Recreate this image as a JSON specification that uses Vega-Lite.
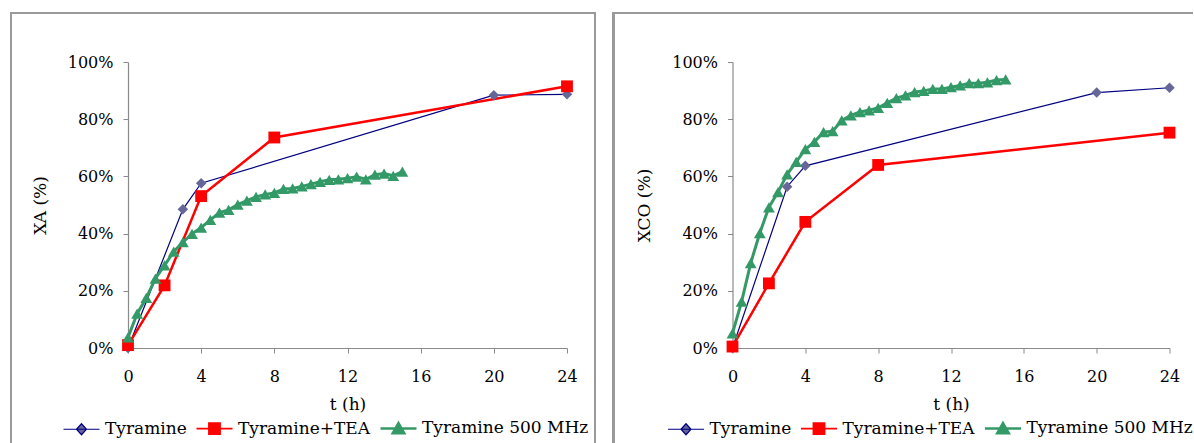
{
  "$schema": "https://vega.github.io/schema/vega-lite/v6.json",
  "padding": {"left": 9, "top": 11, "right": 0, "bottom": 0},
  "spacing": 14.5,
  "config": {
    "view": {"stroke": null},
    "font": "DejaVu Serif",
    "axis": {
      "grid": false,
      "domainColor": "#8a8a8a",
      "domainWidth": 1.2,
      "tickColor": "#8a8a8a",
      "tickSize": 5,
      "labelFont": "DejaVu Serif",
      "labelFontSize": 16,
      "labelColor": "#000000",
      "titleFont": "DejaVu Serif",
      "titleFontSize": 17,
      "titleFontWeight": "normal",
      "titleColor": "#000000",
      "labelFlush": false,
      "labelOverlap": false
    },
    "axisX": {"labelPadding": 15, "titlePadding": 12},
    "axisY": {"labelPadding": 10, "titlePadding": 18},
    "legend": {
      "orient": "none",
      "legendX": -64.5,
      "legendY": 357.5,
      "direction": "horizontal",
      "labelFont": "DejaVu Serif",
      "labelFontSize": 17,
      "labelColor": "#000000",
      "labelLimit": 0,
      "symbolSize": 100,
      "symbolOffset": 9.5,
      "labelOffset": 15,
      "columnPadding": 5
    }
  },
  "datasets": {
    "xa": [
      {"t": 0, "v": 0.0, "series": "Tyramine"},
      {"t": 3, "v": 0.485, "series": "Tyramine"},
      {"t": 4, "v": 0.576, "series": "Tyramine"},
      {"t": 20, "v": 0.884, "series": "Tyramine"},
      {"t": 24, "v": 0.887, "series": "Tyramine"},
      {"t": 0, "v": 0.01, "series": "Tyramine+TEA"},
      {"t": 2, "v": 0.219, "series": "Tyramine+TEA"},
      {"t": 4, "v": 0.531, "series": "Tyramine+TEA"},
      {"t": 8, "v": 0.736, "series": "Tyramine+TEA"},
      {"t": 24, "v": 0.915, "series": "Tyramine+TEA"},
      {"t": 0, "v": 0.037, "series": "Tyramine 500 MHz"},
      {"t": 0.5, "v": 0.12, "series": "Tyramine 500 MHz"},
      {"t": 1, "v": 0.175, "series": "Tyramine 500 MHz"},
      {"t": 1.5, "v": 0.243, "series": "Tyramine 500 MHz"},
      {"t": 2, "v": 0.289, "series": "Tyramine 500 MHz"},
      {"t": 2.5, "v": 0.337, "series": "Tyramine 500 MHz"},
      {"t": 3, "v": 0.37, "series": "Tyramine 500 MHz"},
      {"t": 3.5, "v": 0.399, "series": "Tyramine 500 MHz"},
      {"t": 4, "v": 0.421, "series": "Tyramine 500 MHz"},
      {"t": 4.5, "v": 0.448, "series": "Tyramine 500 MHz"},
      {"t": 5, "v": 0.473, "series": "Tyramine 500 MHz"},
      {"t": 5.5, "v": 0.483, "series": "Tyramine 500 MHz"},
      {"t": 6, "v": 0.501, "series": "Tyramine 500 MHz"},
      {"t": 6.5, "v": 0.515, "series": "Tyramine 500 MHz"},
      {"t": 7, "v": 0.528, "series": "Tyramine 500 MHz"},
      {"t": 7.5, "v": 0.537, "series": "Tyramine 500 MHz"},
      {"t": 8, "v": 0.542, "series": "Tyramine 500 MHz"},
      {"t": 8.5, "v": 0.556, "series": "Tyramine 500 MHz"},
      {"t": 9, "v": 0.558, "series": "Tyramine 500 MHz"},
      {"t": 9.5, "v": 0.565, "series": "Tyramine 500 MHz"},
      {"t": 10, "v": 0.573, "series": "Tyramine 500 MHz"},
      {"t": 10.5, "v": 0.581, "series": "Tyramine 500 MHz"},
      {"t": 11, "v": 0.588, "series": "Tyramine 500 MHz"},
      {"t": 11.5, "v": 0.59, "series": "Tyramine 500 MHz"},
      {"t": 12, "v": 0.594, "series": "Tyramine 500 MHz"},
      {"t": 12.5, "v": 0.599, "series": "Tyramine 500 MHz"},
      {"t": 13, "v": 0.59, "series": "Tyramine 500 MHz"},
      {"t": 13.5, "v": 0.606, "series": "Tyramine 500 MHz"},
      {"t": 14, "v": 0.61, "series": "Tyramine 500 MHz"},
      {"t": 14.5, "v": 0.602, "series": "Tyramine 500 MHz"},
      {"t": 15, "v": 0.617, "series": "Tyramine 500 MHz"}
    ],
    "xco": [
      {"t": 0, "v": 0.0, "series": "Tyramine"},
      {"t": 3, "v": 0.564, "series": "Tyramine"},
      {"t": 4, "v": 0.637, "series": "Tyramine"},
      {"t": 20, "v": 0.893, "series": "Tyramine"},
      {"t": 24, "v": 0.91, "series": "Tyramine"},
      {"t": 0, "v": 0.005, "series": "Tyramine+TEA"},
      {"t": 2, "v": 0.226, "series": "Tyramine+TEA"},
      {"t": 4, "v": 0.441, "series": "Tyramine+TEA"},
      {"t": 8, "v": 0.64, "series": "Tyramine+TEA"},
      {"t": 24, "v": 0.753, "series": "Tyramine+TEA"},
      {"t": 0, "v": 0.051, "series": "Tyramine 500 MHz"},
      {"t": 0.5, "v": 0.162, "series": "Tyramine 500 MHz"},
      {"t": 1, "v": 0.297, "series": "Tyramine 500 MHz"},
      {"t": 1.5, "v": 0.402, "series": "Tyramine 500 MHz"},
      {"t": 2, "v": 0.492, "series": "Tyramine 500 MHz"},
      {"t": 2.5, "v": 0.545, "series": "Tyramine 500 MHz"},
      {"t": 3, "v": 0.607, "series": "Tyramine 500 MHz"},
      {"t": 3.5, "v": 0.651, "series": "Tyramine 500 MHz"},
      {"t": 4, "v": 0.695, "series": "Tyramine 500 MHz"},
      {"t": 4.5, "v": 0.721, "series": "Tyramine 500 MHz"},
      {"t": 5, "v": 0.755, "series": "Tyramine 500 MHz"},
      {"t": 5.5, "v": 0.758, "series": "Tyramine 500 MHz"},
      {"t": 6, "v": 0.796, "series": "Tyramine 500 MHz"},
      {"t": 6.5, "v": 0.813, "series": "Tyramine 500 MHz"},
      {"t": 7, "v": 0.825, "series": "Tyramine 500 MHz"},
      {"t": 7.5, "v": 0.831, "series": "Tyramine 500 MHz"},
      {"t": 8, "v": 0.84, "series": "Tyramine 500 MHz"},
      {"t": 8.5, "v": 0.857, "series": "Tyramine 500 MHz"},
      {"t": 9, "v": 0.874, "series": "Tyramine 500 MHz"},
      {"t": 9.5, "v": 0.883, "series": "Tyramine 500 MHz"},
      {"t": 10, "v": 0.895, "series": "Tyramine 500 MHz"},
      {"t": 10.5, "v": 0.899, "series": "Tyramine 500 MHz"},
      {"t": 11, "v": 0.906, "series": "Tyramine 500 MHz"},
      {"t": 11.5, "v": 0.906, "series": "Tyramine 500 MHz"},
      {"t": 12, "v": 0.912, "series": "Tyramine 500 MHz"},
      {"t": 12.5, "v": 0.918, "series": "Tyramine 500 MHz"},
      {"t": 13, "v": 0.926, "series": "Tyramine 500 MHz"},
      {"t": 13.5, "v": 0.926, "series": "Tyramine 500 MHz"},
      {"t": 14, "v": 0.929, "series": "Tyramine 500 MHz"},
      {"t": 14.5, "v": 0.937, "series": "Tyramine 500 MHz"},
      {"t": 15, "v": 0.939, "series": "Tyramine 500 MHz"}
    ]
  },
  "resolve": {"legend": {"shape": "independent", "fill": "independent", "stroke": "independent", "strokeWidth": "independent"}},
  "hconcat": [
    {
      "width": 439,
      "height": 286,
      "data": {"name": "xa"},
      "layer": [
        {
          "mark": {"type": "rule", "color": "#9a9a9a", "strokeWidth": 1.5},
          "encoding": {
            "x": {"datum": -6.41, "type": "quantitative", "title": "t (h)"},
            "y": {"datum": 1.1724, "type": "quantitative", "title": "XA (%)"},
            "y2": {"datum": -0.34}
          }
        },
        {
          "mark": {"type": "rule", "color": "#9a9a9a", "strokeWidth": 1.5},
          "encoding": {
            "x": {"datum": 25.53, "type": "quantitative", "title": "t (h)"},
            "y": {"datum": 1.1724, "type": "quantitative", "title": "XA (%)"},
            "y2": {"datum": -0.34}
          }
        },
        {
          "mark": {"type": "rule", "color": "#9a9a9a", "strokeWidth": 1.5},
          "encoding": {
            "x": {"datum": -6.44, "type": "quantitative", "title": "t (h)"},
            "x2": {"datum": 25.56},
            "y": {"datum": 1.1724, "type": "quantitative", "title": "XA (%)"}
          }
        },
        {
          "transform": [{"filter": "datum.series === 'Tyramine'"}],
          "mark": {"type": "line", "color": "#000080", "strokeWidth": 1.2},
          "encoding": {
            "x": {"field": "t", "type": "quantitative", "title": "t (h)",
                  "scale": {"domain": [0, 24], "nice": false},
                  "axis": {"values": [0, 4, 8, 12, 16, 20, 24]}},
            "y": {"field": "v", "type": "quantitative", "title": "XA (%)",
                  "scale": {"domain": [0, 1], "nice": false},
                  "axis": {"values": [0, 0.2, 0.4, 0.6, 0.8, 1], "format": ".0%"}}
          }
        },
        {
          "transform": [{"filter": "datum.series === 'Tyramine+TEA'"}],
          "mark": {"type": "line", "color": "#ff0000", "strokeWidth": 2.5},
          "encoding": {
            "x": {"field": "t", "type": "quantitative", "title": "t (h)"},
            "y": {"field": "v", "type": "quantitative", "title": "XA (%)"}
          }
        },
        {
          "transform": [{"filter": "datum.series === 'Tyramine 500 MHz'"}],
          "mark": {"type": "line", "color": "#339966", "strokeWidth": 3},
          "encoding": {
            "x": {"field": "t", "type": "quantitative", "title": "t (h)"},
            "y": {"field": "v", "type": "quantitative", "title": "XA (%)"}
          }
        },
        {
          "transform": [{"filter": "datum.series === 'Tyramine'"}],
          "mark": {"type": "point", "shape": "diamond", "filled": true, "opacity": 1, "strokeWidth": 0, "size": 110, "color": "#666699"},
          "encoding": {
            "x": {"field": "t", "type": "quantitative", "title": "t (h)"},
            "y": {"field": "v", "type": "quantitative", "title": "XA (%)"}
          }
        },
        {
          "transform": [{"filter": "datum.series === 'Tyramine+TEA'"}],
          "mark": {"type": "point", "shape": "square", "filled": true, "opacity": 1, "strokeWidth": 0, "size": 140, "color": "#ff0000"},
          "encoding": {
            "x": {"field": "t", "type": "quantitative", "title": "t (h)"},
            "y": {"field": "v", "type": "quantitative", "title": "XA (%)"}
          }
        },
        {
          "transform": [{"filter": "datum.series === 'Tyramine 500 MHz'"}],
          "mark": {"type": "point", "shape": "triangle-up", "filled": true, "opacity": 1, "strokeWidth": 0, "size": 140, "color": "#339966"},
          "encoding": {
            "x": {"field": "t", "type": "quantitative", "title": "t (h)"},
            "y": {"field": "v", "type": "quantitative", "title": "XA (%)"}
          }
        },
        {
          "transform": [{"filter": "false"}],
          "mark": {"type": "point", "filled": true, "opacity": 1},
          "encoding": {
            "x": {"field": "t", "type": "quantitative", "title": "t (h)"},
            "y": {"field": "v", "type": "quantitative", "title": "XA (%)"},
            "shape": {"field": "series", "type": "nominal", "title": null,
                      "scale": {"domain": ["Tyramine", "Tyramine+TEA", "Tyramine 500 MHz"], "range": ["M-3.6,0L3.6,0M-1,0L0,-1.1L1,0L0,1.1Z", "M-3.6,0L3.6,0M-1.1,-1.1L1.1,-1.1L1.1,1.1L-1.1,1.1Z", "M-3.6,0L3.6,0M0,-1.05L1.15,0.95L-1.15,0.95Z"]}},
            "fill": {"field": "series", "type": "nominal", "title": null,
                     "scale": {"domain": ["Tyramine", "Tyramine+TEA", "Tyramine 500 MHz"], "range": ["#666699", "#ff0000", "#339966"]}},
            "stroke": {"field": "series", "type": "nominal", "title": null,
                     "scale": {"domain": ["Tyramine", "Tyramine+TEA", "Tyramine 500 MHz"], "range": ["#000080", "#ff0000", "#339966"]}},
            "strokeWidth": {"field": "series", "type": "nominal", "title": null,
                     "scale": {"domain": ["Tyramine", "Tyramine+TEA", "Tyramine 500 MHz"], "range": [1.2, 2.5, 2.5]}}
          }
        }
      ]
    },
    {
      "width": 437,
      "height": 286,
      "data": {"name": "xco"},
      "layer": [
        {
          "mark": {"type": "rule", "color": "#9a9a9a", "strokeWidth": 1.5},
          "encoding": {
            "x": {"datum": -6.535, "type": "quantitative", "title": "t (h)"},
            "y": {"datum": 1.1724, "type": "quantitative", "title": "XCO (%)"},
            "y2": {"datum": -0.34}
          }
        },
        {
          "mark": {"type": "rule", "color": "#9a9a9a", "strokeWidth": 1.5},
          "encoding": {
            "x": {"datum": -6.575, "type": "quantitative", "title": "t (h)"},
            "x2": {"datum": 25.28},
            "y": {"datum": 1.1724, "type": "quantitative", "title": "XCO (%)"}
          }
        },
        {
          "transform": [{"filter": "datum.series === 'Tyramine'"}],
          "mark": {"type": "line", "color": "#000080", "strokeWidth": 1.2},
          "encoding": {
            "x": {"field": "t", "type": "quantitative", "title": "t (h)",
                  "scale": {"domain": [0, 24], "nice": false},
                  "axis": {"values": [0, 4, 8, 12, 16, 20, 24]}},
            "y": {"field": "v", "type": "quantitative", "title": "XCO (%)",
                  "scale": {"domain": [0, 1], "nice": false},
                  "axis": {"values": [0, 0.2, 0.4, 0.6, 0.8, 1], "format": ".0%"}}
          }
        },
        {
          "transform": [{"filter": "datum.series === 'Tyramine+TEA'"}],
          "mark": {"type": "line", "color": "#ff0000", "strokeWidth": 2.5},
          "encoding": {
            "x": {"field": "t", "type": "quantitative", "title": "t (h)"},
            "y": {"field": "v", "type": "quantitative", "title": "XCO (%)"}
          }
        },
        {
          "transform": [{"filter": "datum.series === 'Tyramine 500 MHz'"}],
          "mark": {"type": "line", "color": "#339966", "strokeWidth": 3},
          "encoding": {
            "x": {"field": "t", "type": "quantitative", "title": "t (h)"},
            "y": {"field": "v", "type": "quantitative", "title": "XCO (%)"}
          }
        },
        {
          "transform": [{"filter": "datum.series === 'Tyramine'"}],
          "mark": {"type": "point", "shape": "diamond", "filled": true, "opacity": 1, "strokeWidth": 0, "size": 110, "color": "#666699"},
          "encoding": {
            "x": {"field": "t", "type": "quantitative", "title": "t (h)"},
            "y": {"field": "v", "type": "quantitative", "title": "XCO (%)"}
          }
        },
        {
          "transform": [{"filter": "datum.series === 'Tyramine+TEA'"}],
          "mark": {"type": "point", "shape": "square", "filled": true, "opacity": 1, "strokeWidth": 0, "size": 140, "color": "#ff0000"},
          "encoding": {
            "x": {"field": "t", "type": "quantitative", "title": "t (h)"},
            "y": {"field": "v", "type": "quantitative", "title": "XCO (%)"}
          }
        },
        {
          "transform": [{"filter": "datum.series === 'Tyramine 500 MHz'"}],
          "mark": {"type": "point", "shape": "triangle-up", "filled": true, "opacity": 1, "strokeWidth": 0, "size": 140, "color": "#339966"},
          "encoding": {
            "x": {"field": "t", "type": "quantitative", "title": "t (h)"},
            "y": {"field": "v", "type": "quantitative", "title": "XCO (%)"}
          }
        },
        {
          "transform": [{"filter": "false"}],
          "mark": {"type": "point", "filled": true, "opacity": 1},
          "encoding": {
            "x": {"field": "t", "type": "quantitative", "title": "t (h)"},
            "y": {"field": "v", "type": "quantitative", "title": "XCO (%)"},
            "shape": {"field": "series", "type": "nominal", "title": null,
                      "scale": {"domain": ["Tyramine", "Tyramine+TEA", "Tyramine 500 MHz"], "range": ["M-3.6,0L3.6,0M-1,0L0,-1.1L1,0L0,1.1Z", "M-3.6,0L3.6,0M-1.1,-1.1L1.1,-1.1L1.1,1.1L-1.1,1.1Z", "M-3.6,0L3.6,0M0,-1.05L1.15,0.95L-1.15,0.95Z"]}},
            "fill": {"field": "series", "type": "nominal", "title": null,
                     "scale": {"domain": ["Tyramine", "Tyramine+TEA", "Tyramine 500 MHz"], "range": ["#666699", "#ff0000", "#339966"]}},
            "stroke": {"field": "series", "type": "nominal", "title": null,
                     "scale": {"domain": ["Tyramine", "Tyramine+TEA", "Tyramine 500 MHz"], "range": ["#000080", "#ff0000", "#339966"]}},
            "strokeWidth": {"field": "series", "type": "nominal", "title": null,
                     "scale": {"domain": ["Tyramine", "Tyramine+TEA", "Tyramine 500 MHz"], "range": [1.2, 2.5, 2.5]}}
          }
        }
      ]
    }
  ]
}
